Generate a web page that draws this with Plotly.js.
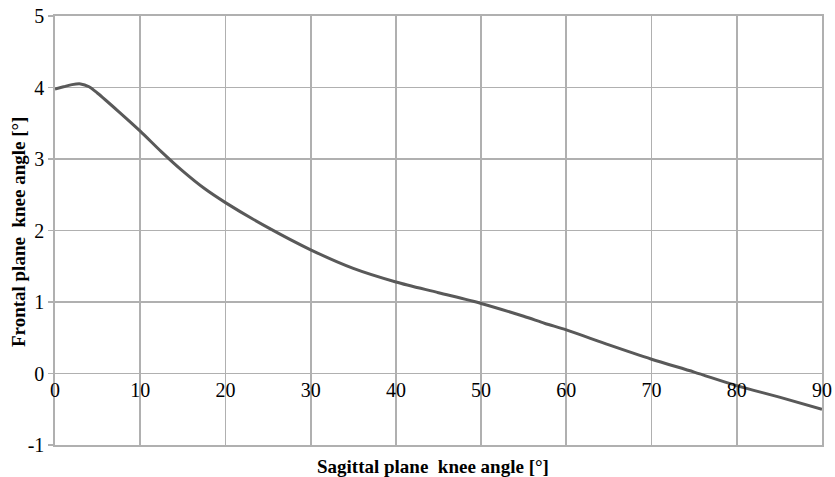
<!DOCTYPE html>
<html>
<head>
<meta charset="utf-8">
<script src="https://cdn.plot.ly/plotly-3.0.1.min.js"></script>
<style>html,body{margin:0;padding:0;background:#fff;}#chart{width:835px;height:477px;}</style>
</head>
<body>
<div id="chart"></div>
<script>
// Sagittal plane knee angle [°]
const sagittal = [0, 1, 2, 3, 4, 5, 7.5, 10, 12.5, 15, 17.5, 20, 25, 30, 35, 40, 45, 50, 55, 57.5, 60, 65, 70, 75, 80, 85, 90];
// Frontal plane knee angle [°]
const frontal = [3.98, 4.01, 4.04, 4.05, 4.01, 3.92, 3.66, 3.39, 3.10, 2.83, 2.59, 2.39, 2.04, 1.73, 1.47, 1.28, 1.13, 0.98, 0.80, 0.70, 0.61, 0.40, 0.20, 0.02, -0.17, -0.33, -0.50];
const xTickVals = [0, 10, 20, 30, 40, 50, 60, 70, 80, 90];
const yTickVals = [-1, 0, 1, 2, 3, 4, 5];
const xTitle = 'Sagittal plane  knee angle [°]';
const yTitle = 'Frontal plane  knee angle [°]';

const gridColor = '#b0b0b0';
const serif = 'Liberation Serif, Times New Roman, serif';
const gw = 1.7;

const trace = {
  x: sagittal, y: frontal, type: 'scatter', mode: 'lines',
  line: {color: '#595959', width: 3, shape: 'spline', smoothing: 0.8},
  hoverinfo: 'skip', showlegend: false
};

const layout = {
  width: 835, height: 477,
  margin: {l: 54.5, r: 13, t: 15.5, b: 32},
  paper_bgcolor: '#fff', plot_bgcolor: '#fff',
  font: {family: serif, color: '#000'},
  xaxis: {
    range: [0, 90], tickvals: xTickVals, showticklabels: false,
    showgrid: true, gridcolor: gridColor, gridwidth: gw,
    showline: true, linecolor: gridColor, linewidth: gw, mirror: true,
    zeroline: false, ticks: '', fixedrange: true
  },
  xaxis2: {
    overlaying: 'x', matches: 'x', anchor: 'free', position: 1/6, side: 'bottom',
    range: [0, 90], tickvals: xTickVals, ticktext: xTickVals.map(String),
    showgrid: false, showline: false, zeroline: false, ticks: '',
    ticklabelstandoff: 2,
    tickfont: {family: serif, size: 20, color: '#000'}
  },
  yaxis: {
    range: [-1, 5], tickvals: yTickVals, ticktext: yTickVals.map(String),
    showgrid: true, gridcolor: gridColor, gridwidth: gw,
    showline: true, linecolor: gridColor, linewidth: gw, mirror: true,
    zeroline: true, zerolinecolor: gridColor, zerolinewidth: gw,
    ticks: 'outside', ticklen: 5, tickcolor: gridColor, tickwidth: gw,
    tickfont: {family: serif, size: 20, color: '#000'}, fixedrange: true
  },
  annotations: [
    {text: '<b>' + xTitle + '</b>', xref: 'paper', yref: 'paper', x: 0.4925, y: -0.049,
     xanchor: 'center', yanchor: 'middle', showarrow: false,
     font: {family: serif, size: 19, color: '#000'}},
    {text: '<b>' + yTitle + '</b>', xref: 'paper', yref: 'paper', x: -0.0476, y: 0.4975,
     xanchor: 'center', yanchor: 'middle', showarrow: false, textangle: -90,
     font: {family: serif, size: 19, color: '#000'}}
  ]
};

Plotly.newPlot('chart', [trace, {x: [0], y: [0], xaxis: 'x2', type: 'scatter', mode: 'none', hoverinfo: 'skip', showlegend: false}], layout, {staticPlot: true});
</script>
</body>
</html>
